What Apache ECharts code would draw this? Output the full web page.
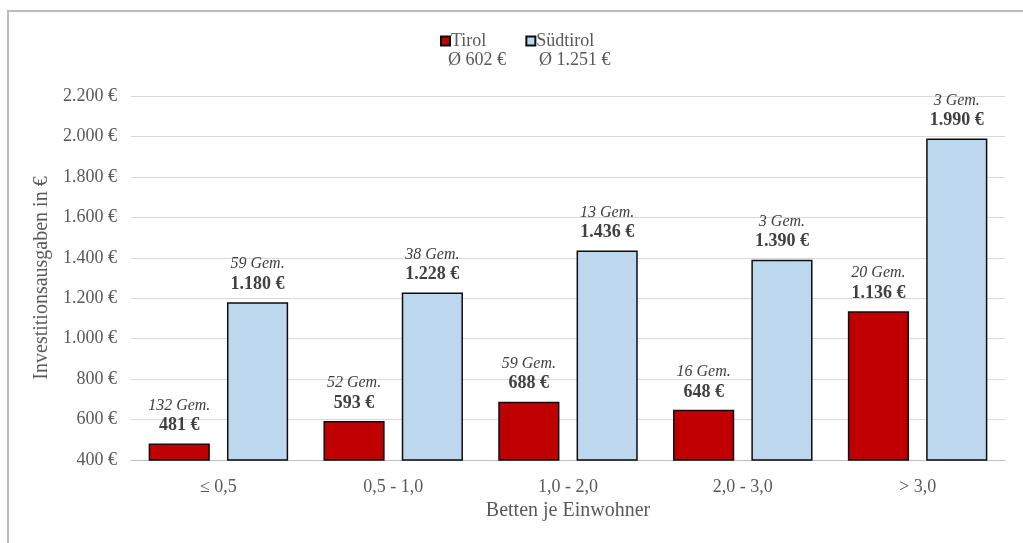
<!DOCTYPE html>
<html>
<head>
<meta charset="utf-8">
<script src="https://cdn.jsdelivr.net/npm/echarts@6/dist/echarts.min.js"></script>
<style>
	html, body { margin: 0; padding: 0; background: #fff; }
	#chart { width: 1023px; height: 543px; }
</style>
</head>
<body>
<div id="chart"></div>
<script>
// Kategorien (Betten je Einwohner)
var categories = ['≤ 0,5', '0,5 - 1,0', '1,0 - 2,0', '2,0 - 3,0', '> 3,0'];
// Investitionsausgaben je Einwohner
var tirolValues = [481, 593, 688, 648, 1136];
var suedtirolValues = [1180, 1228, 1436, 1390, 1990];
// Anzahl Gemeinden
var tirolGem = [132, 52, 59, 16, 20];
var suedtirolGem = [59, 38, 13, 3, 3];
// Durchschnitt
var seriesNames = ['Tirol', 'Südtirol'];
var averages = ['Ø 602 €', 'Ø 1.251 €'];
var yTicks = { min: 400, max: 2200, interval: 200 };

var FONT = "'Liberation Serif', 'Times New Roman', serif";

// 1180 -> "1.180 €"
function euro(v) {
	return String(v).replace(/\B(?=(\d{3})+(?!\d))/g, '.') + ' €';
}

function barLabel(gemArr) {
	return {
		show: true,
		position: 'top',
		distance: 8,
		formatter: function(p) {
			return '{g|' + gemArr[p.dataIndex] + ' Gem.}\n{v|' + euro(p.value) + '}';
		},
		rich: {
			g: { fontFamily: FONT, fontStyle: 'italic', fontSize: 16, color: '#404040', lineHeight: 20 },
			v: { fontFamily: FONT, fontWeight: 'bold', fontSize: 18, color: '#404040', lineHeight: 20 }
		}
	};
}

var chart = echarts.init(document.getElementById('chart'));
var option = {
	backgroundColor: '#fff',
	animation: false,
	textStyle: { fontFamily: FONT },
	graphic: [
		{
			type: 'rect',
			shape: { x: 8, y: 11, width: 1100, height: 600 },
			style: { fill: 'none', stroke: '#bcbcbc', lineWidth: 2 },
			silent: true
		},
		{
			type: 'text', left: 448, top: 51,
			style: { text: averages[0], fontFamily: FONT, fontSize: 18, fill: '#595959' }
		},
		{
			type: 'text', left: 539, top: 51,
			style: { text: averages[1], fontFamily: FONT, fontSize: 18, fill: '#595959' }
		}
	],
	legend: {
		data: seriesNames,
		left: 435,
		top: 27,
		itemWidth: 9,
		itemHeight: 9,
		itemGap: 39,
		icon: 'rect',
		textStyle: { fontFamily: FONT, fontSize: 18, color: '#595959', padding: [0, 0, 0, -4] }
	},
	grid: { left: 131, right: 18, top: 96, bottom: 83 },
	xAxis: {
		type: 'category',
		data: categories,
		name: 'Betten je Einwohner',
		nameLocation: 'middle',
		nameGap: 40,
		nameTextStyle: { fontFamily: FONT, fontSize: 20, color: '#595959' },
		axisLine: { lineStyle: { color: '#bfbfbf', width: 1 } },
		axisTick: { show: false },
		axisLabel: { fontFamily: FONT, fontSize: 18, color: '#595959', margin: 18 }
	},
	yAxis: {
		type: 'value',
		min: yTicks.min,
		max: yTicks.max,
		interval: yTicks.interval,
		name: 'Investitionsausgaben in €',
		nameLocation: 'middle',
		nameGap: 72,
		nameTextStyle: { fontFamily: FONT, fontSize: 20, color: '#595959' },
		axisLine: { show: false },
		axisTick: { show: false },
		splitLine: { lineStyle: { color: '#d9d9d9', width: 1 } },
		axisLabel: { fontFamily: FONT, fontSize: 18, color: '#595959', margin: 14, formatter: euro }
	},
	series: [
		{
			name: seriesNames[0],
			type: 'bar',
			data: tirolValues,
			barWidth: '35%',
			barGap: '28%',
			itemStyle: { color: '#c00000', borderColor: '#0d0d0d', borderWidth: 1.5 },
			label: barLabel(tirolGem)
		},
		{
			name: seriesNames[1],
			type: 'bar',
			data: suedtirolValues,
			barWidth: '35%',
			barGap: '28%',
			itemStyle: { color: '#bdd7ee', borderColor: '#0d0d0d', borderWidth: 1.5 },
			label: barLabel(suedtirolGem)
		}
	]
};
chart.setOption(option);
</script>
</body>
</html>
